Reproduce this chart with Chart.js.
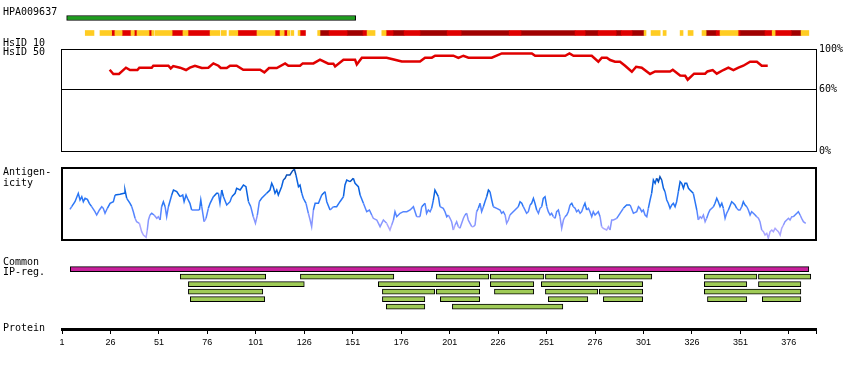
<!DOCTYPE html>
<html>
<head>
<meta charset="utf-8">
<script src="https://cdn.jsdelivr.net/npm/chart.js@4.4.1/dist/chart.umd.min.js"></script>
<style>
  html, body { margin: 0; padding: 0; background: #fff; }
  #wrap { position: relative; width: 850px; height: 370px; overflow: hidden; }
  #wrap canvas { position: absolute; left: 0; }
  .lbl { position: absolute; left: 3px; font: 10px "DejaVu Sans Mono", monospace; line-height: 10px; color: #000; white-space: pre; }
</style>
</head>
<body>
<div id="wrap">
  <canvas id="top" width="850" height="48" style="top:0"></canvas>
  <canvas id="hs50" width="850" height="120" style="top:40px"></canvas>
  <canvas id="ant" width="850" height="90" style="top:160px"></canvas>
  <canvas id="ip" width="850" height="120" style="top:250px"></canvas>
  <div class="lbl" style="top:7px">HPA009637</div>
  <div class="lbl" style="top:38px">HsID 10</div>
  <div class="lbl" style="top:47px">HsID 50</div>
  <div class="lbl" style="top:167px;line-height:10.5px">Antigen-
icity</div>
  <div class="lbl" style="top:257px">Common
IP-reg.</div>
  <div class="lbl" style="top:323px">Protein</div>
</div>
<script>
// protein length and axis ticks
const protLen = 390;
const tickResidues = [1, 26, 51, 76, 101, 126, 151, 176, 201, 226, 251, 276, 301, 326, 351, 376];

// antigen fragment (residues)
const antigenRange = [3.4, 152.5];

// HsID 10 strip: [start, end, level] level 1=yellow 2=red 3=dark red
const hsid10 = [
  [13,17.5,1],[20.6,26.6,1],[26.6,28.3,2],[28.3,32,1],[32,36.6,2],[36.6,38.3,1],[38.3,39.7,2],
  [39.7,45.9,1],[45.9,47.3,2],[47.3,48.5,1],[49,57.8,1],[57.8,63.4,2],[63.4,66,1],[66,77.4,2],
  [77.4,82.5,1],[83.2,85.8,1],[87.2,91.7,1],[91.7,101.6,2],[101.6,110.9,1],[110.9,113.5,2],
  [113.5,115.6,1],[115.6,117.3,2],[117.3,118.6,1],[119.2,120.6,1],[122.8,123.8,1],[123.8,126.6,2],
  [132.9,134.1,1],[134.1,138.8,3],[138.8,148.1,2],[148.1,156.3,3],[156.3,158.4,2],[158.4,162.5,1],
  [166,168.2,1],[168.2,171.8,2],[171.8,177.5,3],[177.5,185.7,2],[185.7,199.7,3],[199.7,206.9,2],
  [206.9,231.7,3],[231.7,237.8,2],[237.8,265.7,3],[265.7,270.9,2],[270.9,277.6,3],[277.6,286.9,2],
  [286.9,289.5,3],[289.5,295.1,2],[295.1,301.3,3],[301.3,302.3,1],[304.9,309.6,1],[311.1,312.7,1],
  [319.9,321.4,1],[324,326.6,1],[331.2,333.3,1],[333.3,338.5,3],[338.5,340.5,2],[340.5,349.8,1],
  [349.8,350.8,2],[350.8,363.7,3],[363.7,367.4,2],[367.4,368.9,1],[368.9,377.2,2],[377.2,382.3,3],
  [382.3,386.3,1]
];
const hsid10Colors = ['#fff', '#ffcc22', '#e00000', '#a00000'];

// HsID 50: [residue, % identity]
const hsid50 = [
  [25.6,79.7],[27.5,75.5],[30.4,75.5],[34.0,81.7],[36.1,79.4],[39.9,79.4],[40.9,81.7],[47.3,81.7],
  [48.1,83.6],[55.9,83.6],[57.1,81.0],[58.4,83.3],[61.9,81.7],[65.0,79.4],[67.0,81.7],[69.6,83.6],
  [73.1,81.4],[76.5,81.7],[79.1,85.9],[81.7,83.6],[82.9,81.4],[86.0,81.4],[87.7,83.6],[91.1,83.6],
  [94.5,79.7],[103.2,79.7],[105.4,77.1],[107.8,81.4],[111.8,81.4],[116.1,85.9],[117.8,83.6],
  [123.8,83.6],[125.2,85.9],[130.7,85.9],[134.1,89.5],[138.4,85.6],[141.0,85.6],[141.9,82.9],
  [146.2,89.5],[152.2,89.5],[153.1,84.9],[155.7,91.5],[168.5,91.5],[171.1,90.2],[176.3,87.8],
  [185.7,87.8],[188.3,91.5],[191.8,91.5],[193.5,93.4],[202.9,93.4],[205.5,91.2],[208.1,93.4],
  [210.7,91.5],[222.7,91.5],[227.9,95.7],[243.4,95.7],[245.1,93.4],[260.6,93.4],[262.8,95.7],
  [264.9,93.4],[274.3,93.4],[277.7,87.5],[279.5,91.5],[282.1,91.5],[283.8,89.2],[286.3,87.5],
  [288.9,87.5],[291.5,83.6],[295.0,77.7],[297.2,82.6],[300.1,81.7],[304.4,75.5],[307.0,78.0],
  [314.7,78.0],[316.1,79.7],[319.9,74.1],[322.5,73.8],[323.8,69.9],[327.1,75.8],[332.8,75.8],
  [334.0,78.0],[336.7,79.4],[338.8,75.8],[342.2,79.4],[344.8,81.7],[347.4,79.4],[350.0,81.7],
  [352.5,83.6],[356.0,87.5],[359.5,87.5],[362.0,83.6],[365.1,83.6]
];

// antigenicity: [residue, score] (score on 0..72 panel scale)
const antigenicity = [
  [5.1,30.7],[6.0,33.3],[7.7,38.3],[9.4,46.7],[10.3,40],[11.2,43.3],[12.0,38.3],[12.9,41.7],[14.1,40.7],
  [15.1,36.7],[16.3,33.3],[18.0,28.3],[18.9,25],[20.3,30],[21.5,33.3],[22.3,31.7],[23.2,26.7],[24.4,31.7],
  [25.8,36.7],[27.5,38.3],[28.4,45],[30.9,45.7],[33.0,46.7],[33.5,50],[34.4,41.7],[36.1,36.7],[37.0,33.3],
  [37.8,28.3],[38.7,21.7],[39.5,18.3],[40.9,16.7],[42.1,8.3],[43.0,5],[44.4,2.7],[45.0,10],[45.6,20],
  [46.4,25],[47.3,26.7],[48.5,25],[49.9,21.7],[50.7,23.3],[51.6,20],[52.4,33.3],[53.3,38.3],[54.2,33.3],
  [55.0,23.3],[55.9,33.3],[57.6,45],[58.5,50],[60.2,48.3],[61.9,43.3],[63.3,45],[64.0,38.3],[65.0,45],
  [65.7,41.7],[67.0,36.7],[67.9,30],[70.5,30],[71.9,30],[72.6,40],[73.1,33.3],[74.3,18.3],[75.3,21.7],
  [76.5,31.7],[77.4,36.7],[79.1,43.3],[80.8,46.7],[81.7,46.7],[82.5,36.7],[83.4,50],[84.3,43.3],[86.0,35],
  [87.7,38.3],[88.6,43.3],[90.3,46.7],[91.1,51.7],[92.9,50],[94.6,55],[95.9,53.3],[97.2,38.3],[98.4,33.3],
  [99.7,23.3],[100.8,16.7],[101.8,25],[102.8,38.3],[104.0,41.7],[106.6,46.7],[108.3,50],[109.2,56.7],
  [110.0,53.3],[110.9,46.7],[111.8,50],[112.6,45],[114.3,53.3],[115.2,60],[116.1,61.7],[116.9,65],
  [118.6,65],[120.0,69.3],[120.9,70.7],[121.7,65],[123.0,53.3],[123.8,55],[124.7,46.7],[125.5,41.7],
  [126.9,36.7],[128.1,26.7],[129.0,20],[129.8,13.3],[130.7,30],[131.6,36.7],[133.3,36.7],[135.0,45],
  [136.7,48.3],[137.6,38.3],[139.3,30],[141.0,33.3],[142.7,33.3],[144.4,38.3],[146.2,43.3],[147.0,55],
  [147.9,60],[149.6,58.3],[151.3,61.7],[152.2,56.7],[153.9,53.3],[154.8,45],[156.5,36.7],[158.2,28.3],
  [159.6,30],[160.8,25],[161.6,21.7],[163.4,20],[165.1,13.3],[166.8,20],[168.5,16.7],[170.2,10],[171.1,15],
  [172.0,20],[172.8,28.3],[173.7,23.3],[175.4,26.7],[177.1,28.3],[178.9,28.3],[180.6,30],[182.3,33.3],
  [184.0,23.3],[184.9,23.3],[185.7,23.3],[186.6,33.3],[188.3,36.7],[189.1,26.7],[190.0,30],[190.9,28.3],
  [191.7,31.7],[192.6,40],[193.4,50],[194.3,46.7],[195.2,43.3],[196.0,33.3],[197.7,31.7],[198.6,28.3],
  [199.5,23.3],[200.3,25],[201.2,21.7],[202.0,18.3],[202.9,10],[203.8,15],[204.6,18.3],[205.5,13.3],
  [206.3,11.7],[207.2,16.7],[208.1,21.7],[208.9,25],[209.8,26.7],[210.6,20],[211.5,16.7],[212.4,13.3],
  [213.2,13.3],[214.1,15],[214.9,28.3],[215.8,31.7],[216.7,36.7],[217.5,28.3],[218.4,33.3],[219.2,38.3],
  [220.1,43.3],[221.0,50],[221.8,48.3],[222.7,40],[223.5,33.3],[225.3,31.7],[227.0,30],[227.8,26.7],
  [228.7,28.3],[229.6,25],[230.4,16.7],[231.3,20],[232.1,25],[233.0,26.7],[234.7,30],[236.4,33.3],
  [237.3,38.3],[238.2,36.7],[239.0,33.3],[240.7,26.7],[241.6,28.3],[242.5,35],[243.3,36.7],[244.2,41.7],
  [245.0,36.7],[245.9,30],[246.8,26.7],[247.6,31.7],[248.5,33.3],[249.3,41.7],[250.2,43.3],[251.1,33.3],
  [251.9,28.3],[252.8,25],[253.6,26.7],[254.5,23.3],[255.4,21.7],[256.2,28.3],[257.1,30],[257.9,23.3],
  [258.8,11.7],[259.7,20],[260.5,23.3],[261.4,25],[262.2,28.3],[263.1,35],[264.0,36.7],[264.8,33.3],
  [265.7,31.7],[266.5,28.3],[267.4,30],[268.3,26.7],[269.1,28.3],[270.0,33.3],[270.8,36.7],[271.7,30],
  [272.6,31.7],[273.4,28.3],[274.3,23.3],[275.1,28.3],[276.0,25],[276.9,26.7],[277.7,28.3],[278.6,23.3],
  [279.4,13.3],[280.3,11.7],[282.0,10],[282.9,13.3],[283.7,10],[284.6,20],[285.5,20],[287.2,21.7],
  [288.9,26.7],[290.6,31.7],[292.3,35],[294.1,35],[295.8,26.7],[297.5,28.3],[298.4,33.3],[299.2,31.7],
  [300.1,28.3],[300.9,30],[301.8,25],[302.7,23.3],[303.5,31.7],[304.4,40],[305.2,46.7],[306.1,60],
  [307.0,56.7],[307.8,61.7],[308.7,58.3],[309.5,63.3],[310.4,60],[311.3,51.7],[312.1,48.3],[313.0,40],
  [313.8,36.7],[314.7,31.7],[315.6,35],[316.4,36.7],[317.3,33.3],[318.1,38.3],[319.0,48.3],[319.9,58.3],
  [320.7,56.7],[321.6,51.7],[322.4,56.7],[323.3,56.7],[324.2,51.7],[325.0,50],[325.9,48.3],[326.7,46.7],
  [327.6,38.3],[328.5,30],[329.3,20],[330.2,23.3],[331.0,21.7],[331.9,25],[332.8,18.3],[333.6,21.7],
  [334.5,26.7],[335.3,30],[337.1,33.3],[337.9,36.7],[338.8,41.7],[339.6,38.3],[340.5,33.3],[341.4,36.7],
  [342.2,31.7],[343.1,21.7],[343.9,26.7],[344.8,30],[346.5,38.3],[347.4,36.7],[348.2,35],[349.1,31.7],
  [350.0,30],[350.8,30],[351.7,33.3],[352.5,38.3],[353.4,35],[354.3,33.3],[355.1,30],[356.0,25],
  [356.8,28.3],[357.7,26.7],[358.6,25],[359.4,23.3],[360.3,21.7],[361.1,18.3],[362.0,10],[362.9,8.3],
  [363.7,5],[364.6,6.7],[365.4,1.7],[366.3,8.3],[367.2,10],[368.0,8.3],[368.9,11.7],[369.7,10],
  [370.6,8.3],[371.5,5],[372.3,11.7],[373.2,15],[374.0,18.3],[374.9,20],[375.8,21.7],[376.6,20],
  [377.5,23.3],[378.3,23.3],[379.2,25],[380.1,26.7],[380.9,28.3],[381.8,25],[382.6,21.7],[383.5,18.3],
  [384.7,16.7]
];

// common IP region and the IP-reg rows
const commonRange = [5.3, 386.3];
const ipRows = [
  [[62.0,106.1],[124.0,172.2],[194.1,221.2],[222.0,249.6],[250.4,272.3],[278.2,305.3],[332.4,359.5],[360.3,387.3]],
  [[66.2,126.0],[164.2,216.5],[222.0,244.4],[248.3,300.6],[332.4,354.3],[360.3,382.2]],
  [[66.2,104.6],[166.3,193.3],[194.1,216.5],[224.1,244.4],[250.4,277.4],[278.2,300.6],[332.4,382.2]],
  [[67.2,105.6],[166.3,188.2],[196.2,216.5],[251.9,272.3],[280.3,300.6],[334.0,354.3],[362.3,382.2]],
  [[168.3,188.2],[202.4,259.4]]
];

Chart.defaults.animation = false;
Chart.defaults.responsive = false;
Chart.defaults.devicePixelRatio = 1;
Chart.defaults.plugins.legend.display = false;
Chart.defaults.plugins.tooltip.enabled = false;

const monoFont = {family: 'DejaVu Sans Mono', size: 10};
const xHidden = {type: 'linear', min: 1, max: protLen, display: false};

// box round the chart area
const frame = {
  id: 'frame',
  afterDatasetsDraw(chart, args, opts) {
    const a = chart.chartArea, ctx = chart.ctx;
    const w = opts.width || 1, o = (w % 2) ? 0.5 : 0;
    ctx.save();
    ctx.strokeStyle = '#000';
    ctx.lineWidth = w;
    ctx.strokeRect(Math.round(a.left) - o, Math.round(a.top) + o, Math.round(a.right - a.left) + 2 * o, Math.round(a.bottom - a.top));
    ctx.restore();
  }
};

function antColor(v) {
  if (v >= 60) return '#0a50b8';
  if (v >= 45) return '#0a62e0';
  if (v >= 33) return '#2a76f6';
  if (v >= 24) return '#5585ff';
  if (v >= 14) return '#8796ff';
  return '#aaa6ff';
}

// top: antigen bar + HsID 10 strip
new Chart(document.getElementById('top'), {
  type: 'bar',
  data: {
    datasets: [
      {data: [{x: antigenRange, y: 0}], backgroundColor: '#1e9e1e', borderColor: '#000', borderWidth: 1,
       borderSkipped: false, barThickness: 5, grouped: false},
      ...[1, 2, 3].map(lv => ({
        data: hsid10.filter(s => s[2] === lv).map(s => ({x: [s[0], s[1]], y: 1})),
        backgroundColor: hsid10Colors[lv], borderWidth: 0, barThickness: 5, grouped: false
      }))
    ]
  },
  options: {
    indexAxis: 'y',
    layout: {padding: {left: 62, right: 34, top: 0, bottom: 0}},
    scales: {
      x: xHidden,
      y: {type: 'linear', reverse: true, min: -0.4, max: 1.2, display: false}
    }
  }
});

// HsID 50 panel
new Chart(document.getElementById('hs50'), {
  type: 'line',
  data: {
    datasets: [{
      data: hsid50.map(p => ({x: p[0], y: p[1]})),
      borderColor: '#e00000', borderWidth: 2.5, pointRadius: 0, tension: 0
    }]
  },
  options: {
    layout: {padding: {left: 62, right: 0, top: 8, bottom: 9}},
    scales: {
      x: xHidden,
      y: {
        position: 'right', min: 0, max: 100,
        afterBuildTicks: s => { s.ticks = [0, 60, 100].map(v => ({value: v})); },
        afterFit: s => { s.width = 34; },
        ticks: {font: monoFont, color: '#000', padding: 3, callback: v => v + '%'},
        grid: {color: c => (c.tick && c.tick.value === 60) ? '#000' : 'rgba(0,0,0,0)', drawTicks: false},
        border: {display: false}
      }
    },
    plugins: {frame: {width: 1}}
  },
  plugins: [frame]
});

// antigenicity panel
new Chart(document.getElementById('ant'), {
  type: 'line',
  data: {
    datasets: [{
      data: antigenicity.map(p => ({x: p[0], y: p[1]})),
      borderWidth: 1.5, pointRadius: 0, tension: 0, borderColor: '#2a76f6',
      segment: {borderColor: c => antColor((c.p0.parsed.y + c.p1.parsed.y) / 2)}
    }]
  },
  options: {
    layout: {padding: {left: 62, right: 34, top: 8, bottom: 10}},
    scales: {
      x: xHidden,
      y: {min: 0, max: 72, display: false}
    },
    plugins: {frame: {width: 2}}
  },
  plugins: [frame]
});

// common region, IP-reg rows and protein axis
new Chart(document.getElementById('ip'), {
  type: 'bar',
  data: {
    datasets: [
      {data: [{x: commonRange, y: 0}], backgroundColor: '#c8209c', borderColor: '#000', borderWidth: 1,
       borderSkipped: false, barThickness: 5, grouped: false},
      {data: ipRows.flatMap((row, i) => row.map(r => ({x: r, y: i + 1}))), backgroundColor: '#9fcb57',
       borderColor: '#000', borderWidth: 1, borderSkipped: false, barThickness: 5, grouped: false}
    ]
  },
  options: {
    indexAxis: 'y',
    layout: {padding: {left: 62, right: 34, top: 2, bottom: 0}},
    scales: {
      x: {
        type: 'linear', position: 'bottom', min: 1, max: protLen,
        afterBuildTicks: s => { s.ticks = tickResidues.concat([protLen]).map(v => ({value: v})); },
        afterFit: s => { s.height = 41; },
        ticks: {autoSkip: false, maxRotation: 0, padding: 3, color: '#000',
                font: {family: 'Liberation Sans', size: 9},
                callback: v => v === protLen ? '' : String(v)},
        grid: {drawOnChartArea: false, drawTicks: true, tickLength: 5, tickColor: '#000', tickWidth: 1},
        border: {display: true, color: '#000', width: 3}
      },
      y: {type: 'linear', reverse: true, min: -1, max: 6.7, display: false}
    }
  }
});
</script>
</body>
</html>
